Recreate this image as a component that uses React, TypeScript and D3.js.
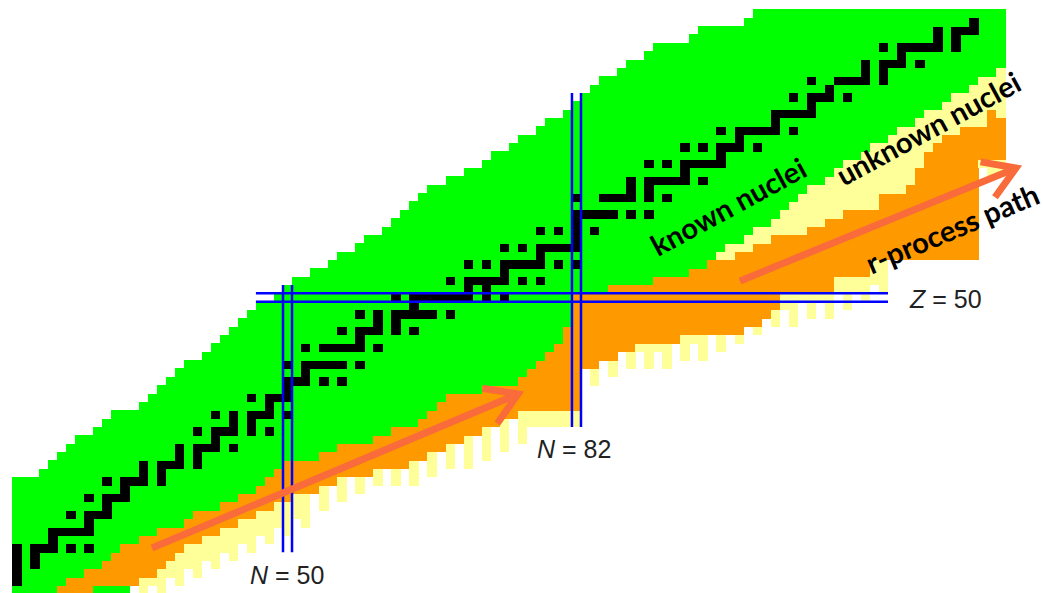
import React from "react";
import * as d3 from "d3";

// Proton number of each row, bottom to top
const rowZ = [15,16,17,18,19,20,21,22,23,24,25,26,27,28,29,30,31,32,33,34,35,36,37,38,39,40,41,42,43,44,45,46,47,48,49,50,51,52,53,54,55,56,57,58,59,60,61,62,63,64,65,66,67,68,69,70,71,72,73,74,75,76,77,78,79,80,81,82,83,84];
// Known nuclei (green): first and last neutron number per row
const greenFrom = [20,20,20,20,20,20,20,20,20,20,20,20,20,20,23,24,25,26,27,29,30,31,34,35,36,37,38,39,41,42,43,44,45,46,47,49,50,51,53,55,56,58,59,61,62,63,64,65,66,68,70,72,73,75,76,78,79,81,82,83,84,85,87,88,90,91,95,96,101,102];
const greenTo = [32,25,27,29,30,31,33,35,38,39,42,44,46,47,48,49,53,55,59,61,64,65,66,67,71,75,76,77,78,79,80,80,81,81,81,81,85,90,94,96,97,98,100,101,103,104,105,106,107,109,110,111,113,114,116,117,119,120,122,123,125,126,128,129,129,129,129,129,129,129];
// r-process path (orange): first and last neutron number per row, 0 = none
const orangeFrom = [25,26,28,30,31,32,34,36,39,40,43,45,47,48,49,50,54,56,60,62,65,66,67,68,72,76,77,78,79,80,81,81,82,82,82,82,86,91,95,97,100,102,104,108,110,112,116,116,119,120,120,121,121,122,123,125,128,128,0,0,0,0,0,0,0,0,0,0,0,0];
const orangeTo = [28,33,35,36,37,38,40,42,44,46,48,50,53,55,59,63,65,67,69,71,73,75,82,82,82,82,82,84,86,88,93,100,102,103,104,104,110,110,114,114,126,126,126,126,126,126,126,126,126,126,126,126,129,129,129,129,129,128,0,0,0,0,0,0,0,0,0,0,0,0];
// Lowest bound proton number for each neutron number (unknown nuclei, yellow)
const dripN = [20,21,22,23,24,25,26,27,28,29,30,31,32,33,34,35,36,37,38,39,40,41,42,43,44,45,46,47,48,49,50,51,52,53,54,55,56,57,58,59,60,61,62,63,64,65,66,67,68,69,70,71,72,73,74,75,76,77,78,79,80,81,82,83,84,85,86,87,88,89,90,91,92,93,94,95,96,97,98,99,100,101,102,103,104,105,106,107,108,109,110,111,112,113,114,115,116,117,118,119,120,121,122,123,124,125,126,127,128,129];
const dripZ = [
  15,15,15,15,15,15,15,15,15,15,15,15,15,
  16,15,16,15,17,16,18,17,19,18,
  20,19,21,20,22,21,23,22,24,23,
  27,25,28,26,29,27,30,28,30,28,
  31,28,32,29,33,30,34,30,35,31,
  36,32,36,33,35,35,35,35,35,35,
  42,40,43,41,44,42,44,42,44,42,
  45,43,45,43,46,44,47,45,48,46,
  49,47,49,47,50,48,50,48,51,49,
  51,50,52,51,55,55,55,55,55,55,
  55,55,55,55,66,65,65
];
// Stable nuclei (black): neutron numbers per row
const stableN = [
  [16],[16,17,18,20],[18,20],[18,20,22],[20,22],[20,22,23,24,26,28],[24],[24,25,26,27,28],[28],[26,28,29,30],
  [30],[28,30,31,32],[32],[30,32,33,34,36],[34,36],[34,36,37,38,40],[38,40],[38,40,41,42,44],[42],[40,42,43,44,46,48],
  [44,46],[42,44,46,47,48,50],[48],[46,48,49,50],[50],[50,51,52,54,56],[52],[50,52,53,54,55,56,58],[],[52,54,55,56,57,58,60],
  [58],[56,58,59,60,62,64],[60,62],[58,60,62,63,64,65,66,68],[64],[62,64,65,66,67,68,69,70,72,74],[70,72],[68,70,71,72,73,74,76,78],[74],[70,72,74,75,76,77,78,80,82],
  [78],[74,76,78,79,80,81,82],[82],[78,80,82,84],[82],[82,83,84,85,86,88,90],[],[82,85,86,87,88,90,92],[88,90],[88,90,91,92,93,94,96],
  [94],[90,92,94,95,96,97,98],[98],[94,96,98,99,100,102],[100],[98,100,101,102,103,104,106],[104],[104,105,106,107,108],[108],[106,108,109,110,112],
  [110],[108,111,112,113,114,116],[114,116],[114,116,117,118,120],[118],[116,118,119,120,121,122,124],[122,124],[122,124,125,126],[126],[]
];

// Magic-number guide lines (neutron / proton number and extent)
const magicN = [
  { n: 50, zLow: 19.5, zHigh: 51.5 },
  { n: 82, zLow: 34.5, zHigh: 74.5 },
];
const magicZ = [{ z: 50, nLow: 46.5, nHigh: 116.5 }];

const N_MIN = 20;
const N_MAX = 129;

const GREEN = "#00ff00";
const ORANGE = "#ff9900";
const YELLOW = "#ffff99";
const ARROW = "#fa6b3c";
const BLUE = "#0000ff";

const x = d3.scaleLinear().domain([19.5, 129.5]).range([12.1, 1005.4]);
const y = d3.scaleLinear().domain([14.5, 84.5]).range([593.9, 9.4]);

type Cell = { n: number; z: number; fill: string };

function buildCells(): Cell[] {
  const cells: Cell[] = [];
  const drip = new Map<number, number>();
  dripN.forEach((n, i) => drip.set(n, dripZ[i]));
  rowZ.forEach((z, i) => {
    const gL = greenFrom[i];
    const gR = greenTo[i];
    const oL = orangeFrom[i];
    const oR = orangeTo[i];
    for (const n of dripN) {
      let fill: string | null = null;
      const inOrange = oL > 0 && n >= oL && n <= oR;
      if (inOrange) fill = ORANGE;
      else if (n >= gL && n <= gR) fill = GREEN;
      else if (n > gR && z >= (drip.get(n) ?? 99)) fill = YELLOW;
      if (fill) cells.push({ n, z, fill });
    }
    for (const n of stableN[i]) {
      if (n >= N_MIN && n <= N_MAX) cells.push({ n, z, fill: "#000000" });
    }
  });
  return cells;
}

function Arrow({ x1, y1, x2, y2 }: { x1: number; y1: number; x2: number; y2: number }) {
  const ang = Math.atan2(y2 - y1, x2 - x1);
  const len = 36;
  const spread = (32 * Math.PI) / 180;
  const a1 = ang + Math.PI - spread;
  const a2 = ang + Math.PI + spread;
  const head = d3.path();
  head.moveTo(x2 + len * Math.cos(a1), y2 + len * Math.sin(a1));
  head.lineTo(x2, y2);
  head.lineTo(x2 + len * Math.cos(a2), y2 + len * Math.sin(a2));
  return (
    <g stroke={ARROW} strokeWidth={7} fill="none">
      <line x1={x1} y1={y1} x2={x2 - 3 * Math.cos(ang)} y2={y2 - 3 * Math.sin(ang)} />
      <path d={head.toString()} strokeLinejoin="miter" />
    </g>
  );
}

export default function App() {
  const cells = buildCells();
  const cw = x(1) - x(0);
  const ch = y(0) - y(1);
  const labelFont = "'Liberation Sans', Arial, sans-serif";
  const boldFont = "Lato, 'Open Sans', sans-serif";
  return (
    <div>
      <style>{`body{margin:0;background:#fff}`}</style>
      <svg width={1043} height={593} style={{ display: "block" }}>
        <rect width={1043} height={593} fill="#ffffff" />
        <g shapeRendering="crispEdges">
          {cells.map((c, i) => (
            <rect
              key={i}
              x={x(c.n - 0.5)}
              y={y(c.z + 0.5)}
              width={cw + 0.4}
              height={ch + 0.4}
              fill={c.fill}
            />
          ))}
        </g>
        <g stroke={BLUE} strokeWidth={2.5}>
          {magicN.map((m) => (
            <g key={m.n}>
              <line x1={x(m.n - 0.5)} x2={x(m.n - 0.5)} y1={y(m.zHigh)} y2={y(m.zLow)} />
              <line x1={x(m.n + 0.5)} x2={x(m.n + 0.5)} y1={y(m.zHigh)} y2={y(m.zLow)} />
            </g>
          ))}
          {magicZ.map((m) => (
            <g key={m.z}>
              <line x1={x(m.nLow)} x2={x(m.nHigh)} y1={y(m.z + 0.5)} y2={y(m.z + 0.5)} />
              <line x1={x(m.nLow)} x2={x(m.nHigh)} y1={y(m.z - 0.5)} y2={y(m.z - 0.5)} />
            </g>
          ))}
        </g>
        <Arrow x1={152} y1={548} x2={518} y2={394} />
        <Arrow x1={740} y1={281} x2={1016} y2={168} />
        <g fontFamily={labelFont} fontSize={25} fill="#222">
          <text x={250} y={584}>
            <tspan fontStyle="italic">N</tspan> = 50
          </text>
          <text x={537} y={458}>
            <tspan fontStyle="italic">N</tspan> = 82
          </text>
          <text x={910} y={308}>
            <tspan fontStyle="italic">Z</tspan> = 50
          </text>
        </g>
        <g fontFamily={boldFont} fontWeight={700} fontSize={29} fill="#000" textAnchor="middle" dominantBaseline="central">
          <text transform="translate(728,206) rotate(-28.5)">known nuclei</text>
          <text transform="translate(928,128) rotate(-28.5)">unknown nuclei</text>
          <text transform="translate(952,228) rotate(-23)">r-process path</text>
        </g>
      </svg>
    </div>
  );
}
